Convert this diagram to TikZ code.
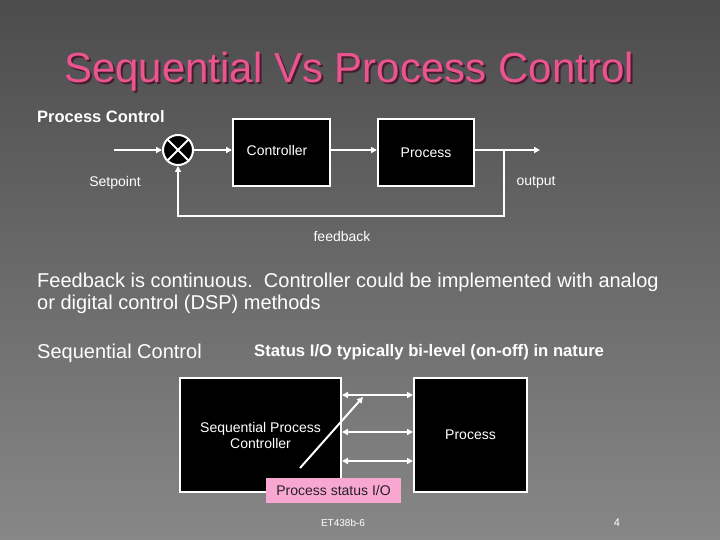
\documentclass[tikz,border=0pt]{standalone}
\usepackage{fontspec}
\setmainfont{Liberation Sans}
\usetikzlibrary{arrows.meta,calc}
\definecolor{bgtop}{RGB}{76,76,76}
\definecolor{bgbot}{RGB}{135,135,135}
\definecolor{titlepink}{RGB}{236,84,144}
\definecolor{titleshade}{RGB}{70,30,45}
\definecolor{statuspink}{RGB}{248,168,208}
\definecolor{statustext}{RGB}{40,30,40}
\tikzset{
  blk/.style={draw=white, line width=2pt, fill=black, text=white, inner sep=0pt, font=\fontsize{14}{16}\selectfont},
  wire/.style={draw=white, line width=2pt},
  arr/.style={wire, -{Triangle[length=6pt,width=6pt]}},
  darr/.style={wire, {Triangle[length=6pt,width=6pt]}-{Triangle[length=6pt,width=6pt]}},
  lbl/.style={text=white, inner sep=0pt, font=\fontsize{14}{16}\selectfont},
  bigtxt/.style={text=white, inner sep=0pt, anchor=base west}
}
\begin{document}
\begin{tikzpicture}[x=1pt,y=-1pt]
\useasboundingbox (0,0) rectangle (720,540);
\shade[top color=bgtop,bottom color=bgbot] (0,0) rectangle (720,540);

% title with shadow
\node[anchor=base, inner sep=0pt, text=titlepink, font=\fontsize{42}{48}\selectfont] (title) at (349,83)
  {\rlap{\hspace{2pt}\raisebox{-2pt}{\textcolor{titleshade}{Sequential Vs Process Control}}}Sequential Vs Process Control};

\node[bigtxt, font=\bfseries\fontsize{16.5}{20}\selectfont] (pchead) at (37,123) {Process Control};

% upper diagram
\node[circle, draw=white, line width=2pt, fill=black, minimum size=30pt, inner sep=0pt] (sum) at (178,150) {};
\draw[wire] (sum.45) -- (sum.225) (sum.135) -- (sum.315);
\node[blk, minimum width=97pt, minimum height=67pt,
      label={[lbl, name=ctrltxt, xshift=-4.5pt, yshift=2.5pt]center:Controller}] (ctrl) at (281.5,152.5) {};
\node[blk, minimum width=96pt, minimum height=67pt] (proc) at (426,152.5) {Process};

\coordinate (in) at (114,150);
\coordinate (out) at (540,150);
\coordinate (br) at (504,150);
\coordinate (fb) at (504,216);
\draw[arr] (in) -- (sum.west);
\draw[arr] (sum.east) -- (sum.east -| ctrl.west);
\draw[arr] (ctrl.east |- sum.east) -- (proc.west |- sum.east);
\draw[arr] (proc.east |- out) -- (out);
\draw[arr] (br) -- (fb) -| (sum.south);

\node[lbl, anchor=base] (setpt) at (115,187) {Setpoint};
\node[lbl, anchor=base] (outlbl) at (536,186) {output};
\node[lbl, anchor=base] (fblbl) at (342,241) {feedback};

% text
\node[bigtxt, font=\fontsize{20}{22}\selectfont] (fb1) at (37,287) {Feedback is continuous.\ \ Controller could be implemented with analog};
\node[bigtxt, font=\fontsize{20}{22}\selectfont] (fb2) at (37,309) {or digital control (DSP) methods};
\node[bigtxt, font=\fontsize{20}{22}\selectfont] (seqhead) at (37,358) {Sequential Control};
\node[bigtxt, font=\bfseries\fontsize{16.7}{20}\selectfont] (status) at (254,356) {Status I/O typically bi-level (on-off) in nature};

% lower diagram
\node[blk, minimum width=161pt, minimum height=114pt, align=center] (spc) at (260.5,435) {Sequential Process\\Controller};
\node[blk, minimum width=113pt, minimum height=114pt] (proc2) at (470.5,435) {Process};
\foreach \yy/\nn in {395/a,432/b,461/c}{
  \coordinate (io\nn) at (377,\yy);
  \draw[darr] (io\nn -| spc.east) -- (io\nn -| proc2.west);
}
\coordinate (dg1) at (300,468);
\coordinate (dg2) at (363,397);
\draw[arr] (dg1) -- (dg2);
\node[fill=statuspink, text=statustext, minimum width=135pt, minimum height=25pt, inner sep=0pt, font=\fontsize{14}{16}\selectfont] (psio) at (333.5,490.5) {Process status I/O};

% footer
\node[lbl, font=\fontsize{10}{12}\selectfont] (foot) at (343,523) {ET438b-6};
\node[lbl, font=\fontsize{11}{12}\selectfont] (pgnum) at (617,523) {4};
\end{tikzpicture}
\end{document}
